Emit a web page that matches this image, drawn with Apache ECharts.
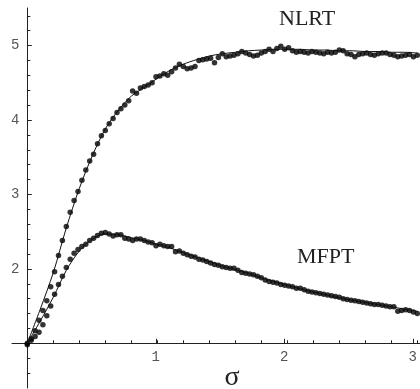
<!DOCTYPE html>
<html>
<head>
<meta charset="utf-8">
<script src="https://cdn.jsdelivr.net/npm/echarts@6/dist/echarts.min.js"></script>
<style>
html,body{margin:0;padding:0;background:#fff;}
#chart{width:420px;height:389px;}
</style>
</head>
<body>
<div id="chart"></div>
<script>
// ---- data ----
const sigma = [0,0.03,0.06,0.09,0.12,0.15,0.18,0.21,0.24,0.27,0.30,0.33,0.36,0.39,0.42,0.45,0.48,0.51,0.54,0.57,
  0.60,0.63,0.66,0.69,0.72,0.75,0.78,0.81,0.84,0.87,0.90,0.93,0.96,0.99,1.02,1.05,1.08,1.11,1.14,1.17,
  1.20,1.23,1.26,1.29,1.32,1.35,1.38,1.41,1.44,1.47,1.50,1.53,1.56,1.59,1.62,1.65,1.68,1.71,1.74,1.77,
  1.80,1.83,1.86,1.89,1.92,1.95,1.98,2.01,2.04,2.07,2.10,2.13,2.16,2.19,2.22,2.25,2.28,2.31,2.34,2.37,
  2.40,2.43,2.46,2.49,2.52,2.55,2.58,2.61,2.64,2.67,2.70,2.73,2.76,2.79,2.82,2.85,2.88,2.91,2.94,2.97,3.00];

const nlrt = [1.00,1.06,1.17,1.31,1.44,1.57,1.76,1.96,2.18,2.38,2.57,2.76,2.92,3.04,3.19,3.33,3.45,3.54,3.68,3.79,
  3.86,3.95,4.02,4.10,4.15,4.20,4.26,4.39,4.36,4.43,4.45,4.47,4.50,4.58,4.59,4.62,4.60,4.65,4.70,4.75,
  4.72,4.69,4.70,4.72,4.80,4.81,4.82,4.83,4.77,4.84,4.89,4.85,4.86,4.87,4.89,4.92,4.90,4.88,4.86,4.87,
  4.90,4.92,4.95,4.92,4.96,4.99,4.95,4.97,4.93,4.91,4.92,4.91,4.90,4.92,4.91,4.90,4.89,4.91,4.90,4.91,
  4.94,4.93,4.89,4.88,4.85,4.88,4.89,4.90,4.88,4.87,4.89,4.90,4.90,4.88,4.87,4.85,4.86,4.87,4.88,4.85,4.87];

const mfpt = [0.98,1.04,1.09,1.15,1.25,1.37,1.50,1.66,1.79,1.90,2.02,2.13,2.21,2.26,2.30,2.33,2.38,2.41,2.45,2.48,
  2.49,2.47,2.44,2.46,2.46,2.41,2.40,2.38,2.40,2.40,2.38,2.36,2.35,2.31,2.33,2.31,2.30,2.30,2.23,2.24,
  2.21,2.19,2.17,2.16,2.13,2.12,2.10,2.08,2.06,2.05,2.03,2.02,2.01,2.01,1.98,1.95,1.94,1.93,1.92,1.90,
  1.88,1.85,1.83,1.82,1.81,1.79,1.78,1.77,1.76,1.74,1.74,1.72,1.70,1.69,1.68,1.67,1.66,1.65,1.64,1.63,
  1.62,1.60,1.59,1.58,1.57,1.56,1.55,1.54,1.53,1.52,1.52,1.51,1.50,1.49,1.49,1.43,1.44,1.45,1.44,1.42,1.40];

const fitSigma = [0,0.1,0.2,0.3,0.4,0.5,0.6,0.7,0.8,0.9,1.0,1.1,1.2,1.3,1.4,1.5,1.6,1.7,1.8,1.9,
  2.0,2.1,2.2,2.3,2.4,2.5,2.6,2.7,2.8,2.9,3.0];
const nlrtFit = [1.00,1.46,1.95,2.55,3.08,3.52,3.88,4.13,4.32,4.44,4.56,4.67,4.75,4.81,4.86,4.89,4.91,4.93,4.94,4.95,
  4.95,4.95,4.94,4.94,4.93,4.93,4.92,4.92,4.91,4.91,4.90];
const mfptFit = [1.00,1.30,1.62,1.98,2.24,2.40,2.47,2.46,2.42,2.38,2.33,2.28,2.22,2.16,2.10,2.04,1.99,1.94,1.88,1.83,
  1.78,1.73,1.69,1.65,1.61,1.58,1.55,1.52,1.49,1.46,1.43];

const xTickLabels = ['1','2','3'];
const yTickLabels = ['2','3','4','5'];
const seriesLabels = ['NLRT','MFPT'];
const xTitle = 'σ';

// ---- layout ----
const INK = '#000';
const AX = '#222';
const LBL = '#555';
const X0 = 27.3, PXX = 130;            // pixel of sigma=0, px per unit
const Y1 = 343.3, PXY = 74.43;         // pixel of value 1, px per unit
const H = 389;
const yPix = v => Y1 - (v - 1) * PXY;

const pairs = (xs, ys) => xs.map((x, i) => [x, ys[i]]);

const hiddenX = (gi, min, max) => ({gridIndex: gi, type: 'value', min, max, show: false});
const hiddenY = (gi, min, max) => ({gridIndex: gi, type: 'value', min, max, show: false});

const grids = [
  // 0 data: value 0.4..5.5
  {left: X0, width: 392.7, top: yPix(5.5), height: 5.1 * PXY},
  // 1 y axis line
  {left: X0, width: 392.7, top: 8, height: H - 1 - 8},
  // 2 y minor ticks: 0.6..5.4
  {left: X0, width: 392.7, top: yPix(5.4), height: 4.8 * PXY},
  // 3 y major ticks + labels: 1..5
  {left: X0, width: 392.7, top: yPix(5), height: 4 * PXY},
  // 4 x axis line
  {left: 12, width: 408, top: 0, height: Y1},
  // 5 x minor ticks
  {left: X0, width: 3 * PXX, top: 0, height: Y1},
  // 6 x major ticks + labels
  {left: X0, width: 3 * PXX, top: 0, height: Y1}
];

const xAxes = [
  hiddenX(0, 0, 392.7 / PXX),
  hiddenX(1, 0, 1),
  hiddenX(2, 0, 1),
  hiddenX(3, 0, 1),
  {gridIndex: 4, type: 'value', min: 0, max: 1, position: 'bottom',
   axisLine: {show: true, onZero: false, lineStyle: {color: AX, width: 1}},
   axisTick: {show: false}, axisLabel: {show: false}, splitLine: {show: false}},
  {gridIndex: 5, type: 'value', min: 0, max: 3, interval: 0.2, position: 'bottom',
   axisLine: {show: false, onZero: false},
   axisTick: {show: true, inside: true, length: 3, lineStyle: {color: AX, width: 1}},
   axisLabel: {show: false}, splitLine: {show: false}},
  {gridIndex: 6, type: 'value', min: 0, max: 3, interval: 1, position: 'bottom',
   axisLine: {show: false, onZero: false},
   axisTick: {show: true, inside: true, length: 4.5, lineStyle: {color: AX, width: 1}},
   axisLabel: {show: true, margin: 7, color: LBL, fontFamily: 'Liberation Mono', fontSize: 14,
     formatter: v => { const s = String(Math.round(v)); return xTickLabels.indexOf(s) >= 0 && Math.abs(v - Math.round(v)) < 1e-6 ? s : ''; }},
   splitLine: {show: false}}
];

const yAxes = [
  hiddenY(0, 0.4, 5.5),
  {gridIndex: 1, type: 'value', min: 0, max: 1, position: 'left',
   axisLine: {show: true, onZero: false, lineStyle: {color: AX, width: 1}},
   axisTick: {show: false}, axisLabel: {show: false}, splitLine: {show: false}},
  {gridIndex: 2, type: 'value', min: 0.6, max: 5.4, interval: 0.2, position: 'left',
   axisLine: {show: false, onZero: false},
   axisTick: {show: true, inside: true, length: 3, lineStyle: {color: AX, width: 1}},
   axisLabel: {show: false}, splitLine: {show: false}},
  {gridIndex: 3, type: 'value', min: 1, max: 5, interval: 1, position: 'left',
   axisLine: {show: false, onZero: false},
   axisTick: {show: true, inside: true, length: 4.5, lineStyle: {color: AX, width: 1}},
   axisLabel: {show: true, margin: 8, color: LBL, fontFamily: 'Liberation Mono', fontSize: 14,
     formatter: v => { const s = String(Math.round(v)); return yTickLabels.indexOf(s) >= 0 ? s : ''; }},
   splitLine: {show: false}},
  hiddenY(4, 0, 1),
  hiddenY(5, 0, 1),
  hiddenY(6, 0, 1)
];

const chart = echarts.init(document.getElementById('chart'), null, {renderer: 'canvas'});
chart.setOption({
  animation: false,
  backgroundColor: '#fff',
  grid: grids,
  xAxis: xAxes,
  yAxis: yAxes,
  series: [
    {type: 'line', xAxisIndex: 0, yAxisIndex: 0, data: pairs(fitSigma, nlrtFit), smooth: 0.3,
     showSymbol: false, clip: false, lineStyle: {color: '#111', width: 1}},
    {type: 'line', xAxisIndex: 0, yAxisIndex: 0, data: pairs(fitSigma, mfptFit), smooth: 0.3,
     showSymbol: false, clip: false, lineStyle: {color: '#111', width: 1}},
    {type: 'scatter', name: seriesLabels[0], xAxisIndex: 0, yAxisIndex: 0, data: pairs(sigma, nlrt),
     symbolSize: 5.5, clip: false, itemStyle: {color: INK}},
    {type: 'scatter', name: seriesLabels[1], xAxisIndex: 0, yAxisIndex: 0, data: pairs(sigma, mfpt),
     symbolSize: 5.5, clip: false, itemStyle: {color: INK}}
  ],
  graphic: [
    {type: 'text', left: 279, top: 8, style: {text: seriesLabels[0], fill: '#222',
      font: '22px "Liberation Serif"'}},
    {type: 'text', left: 297, top: 246, style: {text: seriesLabels[1], fill: '#222',
      font: '22px "Liberation Serif"'}},
    {type: 'text', x: 232, y: 378, style: {text: xTitle, fill: '#222', align: 'center', verticalAlign: 'middle',
      font: '28px "Liberation Serif"'}}
  ]
});
</script>
</body>
</html>
